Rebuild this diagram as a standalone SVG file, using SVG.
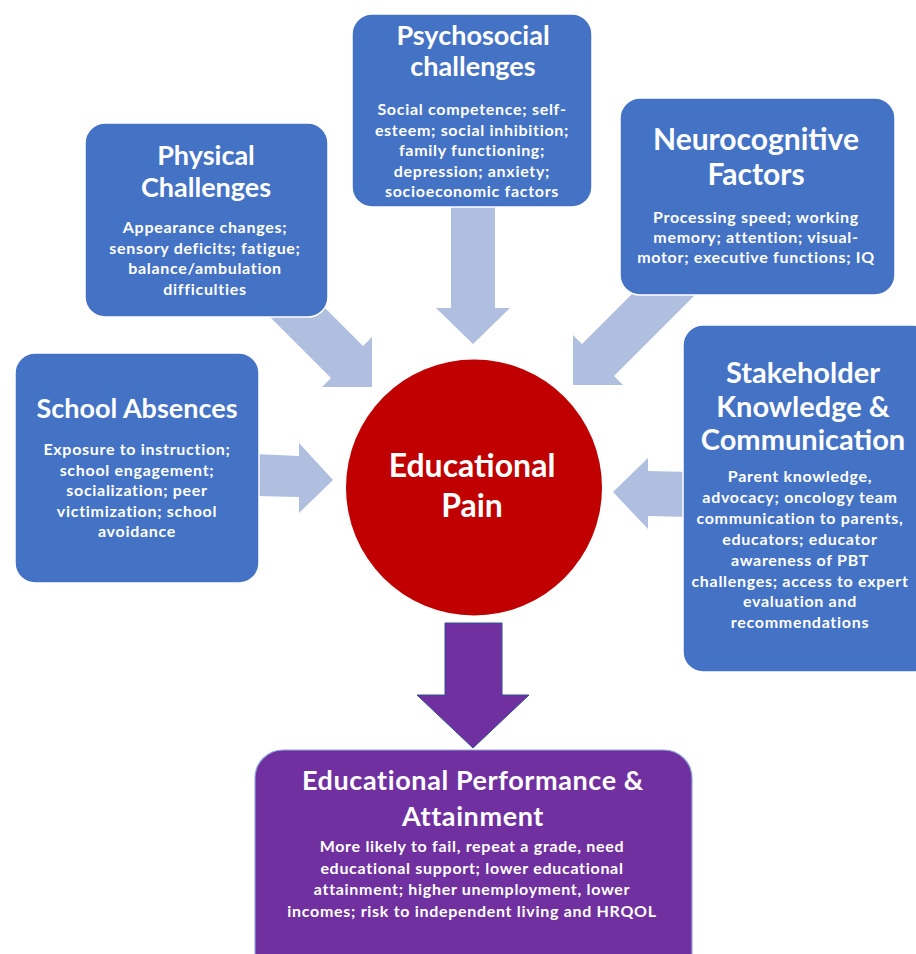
<svg xmlns="http://www.w3.org/2000/svg" width="916" height="954" viewBox="0 0 916 954">
<style>
.box{fill:#4472C4;stroke:#ffffff;stroke-width:1.5}
.pbox{fill:#7030A0;stroke:#8FA7D9;stroke-width:1.2}
.arr{fill:#B0BEE0}
.parr{fill:#7030A0;stroke:#2F528F;stroke-width:1}
text{font-family:Lato,"Liberation Sans",sans-serif;font-weight:700;fill:#ffffff;text-anchor:middle}
.t{font-size:27px}
.tp{font-size:27px;letter-spacing:0.6px}
.tl{font-size:30px}
.ts{font-size:29px}
.b{font-size:16px;letter-spacing:0.7px}
.c{font-size:32px}
</style>
<rect width="916" height="954" fill="#ffffff"/>
<g id="connectors">
<polygon class="arr" points="250,233 363,346 372,337 372,387 322,387 331,378 218,265"/>
<polygon class="arr" points="451,200 495,200 495,308 510,308 473,344 436,308 451,308"/>
<polygon class="arr" points="680,246 582,344 573,335 573,385 623,385 614,376 744,246"/>
<polygon class="arr" points="255,454 299,456 299,443 333,480 299,513 299,497 255,496"/>
<polygon class="arr" points="690,472 648,471 648,458 613,492 648,529 648,516 690,517"/>
<polygon class="parr" points="445,623 502,623 502,695 529,695 473,748 417,695 445,695"/>
</g>
<g id="physical">
<rect class="box" x="85" y="123" width="243" height="194" rx="20"/>
<text class="t" x="206" y="165">Physical</text>
<text class="t" x="206" y="197">Challenges</text>
<text class="b" x="205" y="233">Appearance changes;</text>
<text class="b" x="205" y="253.5">sensory deficits; fatigue;</text>
<text class="b" x="205" y="274">balance/ambulation</text>
<text class="b" x="205" y="294.5">difficulties</text>
</g>
<g id="psychosocial">
<rect class="box" x="352" y="14" width="240" height="193" rx="20"/>
<text class="t" x="473" y="45">Psychosocial</text>
<text class="t" x="473" y="76">challenges</text>
<text class="b" x="472" y="115">Social competence; self-</text>
<text class="b" x="472" y="135.5">esteem; social inhibition;</text>
<text class="b" x="472" y="156">family functioning;</text>
<text class="b" x="472" y="176.5">depression; anxiety;</text>
<text class="b" x="472" y="197">socioeconomic factors</text>
</g>
<g id="neurocognitive">
<rect class="box" x="620" y="98" width="275" height="197" rx="20"/>
<text class="tl" x="756" y="150">Neurocognitive</text>
<text class="tl" x="756" y="185">Factors</text>
<text class="b" x="756" y="223">Processing speed; working</text>
<text class="b" x="756" y="243">memory; attention; visual-</text>
<text class="b" x="756" y="263">motor; executive functions; IQ</text>
</g>
<g id="school-absences">
<rect class="box" x="15" y="353" width="244" height="230" rx="20"/>
<text class="t" x="137" y="418">School Absences</text>
<text class="b" x="137" y="455">Exposure to instruction;</text>
<text class="b" x="137" y="475.5">school engagement;</text>
<text class="b" x="137" y="496">socialization; peer</text>
<text class="b" x="137" y="516.5">victimization; school</text>
<text class="b" x="137" y="537">avoidance</text>
</g>
<g id="stakeholder">
<rect class="box" x="683" y="325" width="250" height="347" rx="20"/>
<text class="ts" x="803" y="383">Stakeholder</text>
<text class="ts" x="803" y="417">Knowledge &amp;</text>
<text class="ts" x="803" y="450">Communication</text>
<text class="b" x="800" y="482">Parent knowledge,</text>
<text class="b" x="800" y="503">advocacy; oncology team</text>
<text class="b" x="800" y="524">communication to parents,</text>
<text class="b" x="800" y="545">educators; educator</text>
<text class="b" x="800" y="565.5">awareness of PBT</text>
<text class="b" x="800" y="586.5">challenges; access to expert</text>
<text class="b" x="800" y="607">evaluation and</text>
<text class="b" x="800" y="628">recommendations</text>
</g>
<g id="educational-pain">
<circle cx="474" cy="487.5" r="128" fill="#C00000"/>
<text class="c" x="472" y="477">Educational</text>
<text class="c" x="472" y="517">Pain</text>
</g>
<g id="educational-performance">
<rect class="pbox" x="255" y="750" width="437" height="230" rx="28"/>
<text class="tp" x="473" y="790">Educational Performance &amp;</text>
<text class="tp" x="473" y="826">Attainment</text>
<text class="b" x="472" y="852">More likely to fail, repeat a grade, need</text>
<text class="b" x="472" y="873.5">educational support; lower educational</text>
<text class="b" x="472" y="895">attainment; higher unemployment, lower</text>
<text class="b" x="472" y="916.5">incomes; risk to independent living and HRQOL</text>
</g>
</svg>
